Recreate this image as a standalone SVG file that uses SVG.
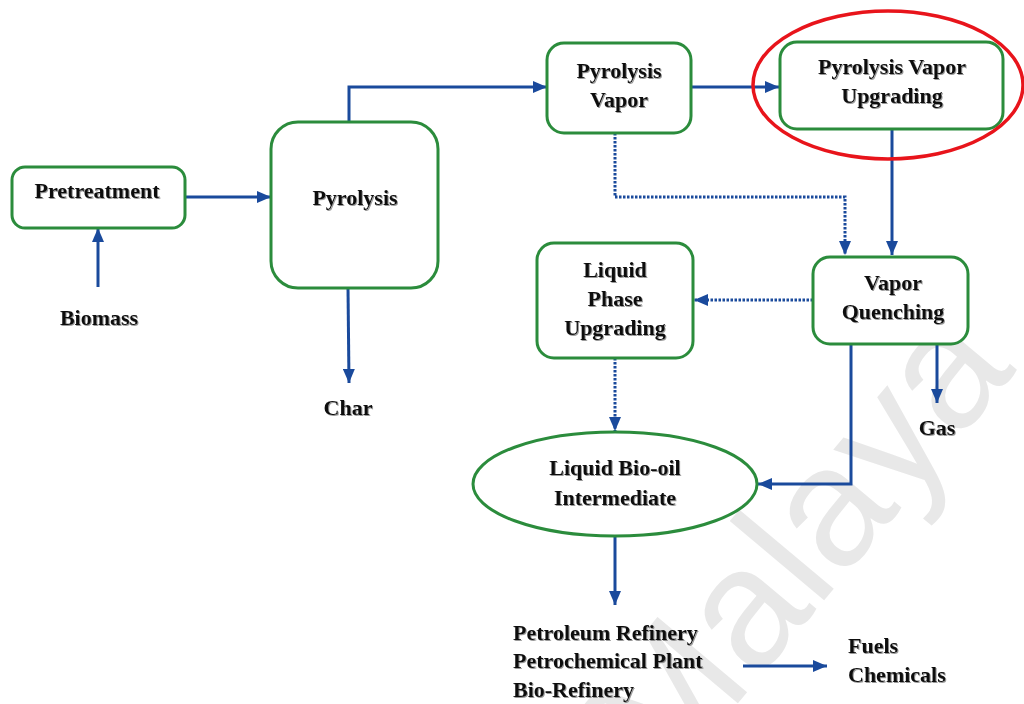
<svg xmlns="http://www.w3.org/2000/svg" width="1024" height="704" viewBox="0 0 1024 704">
  <defs>
    <marker id="ah" viewBox="0 0 14 12" refX="14" refY="6" markerWidth="14" markerHeight="12" markerUnits="userSpaceOnUse" orient="auto">
      <path d="M0,0 L14,6 L0,12 Z" fill="#1a4a9c"/>
    </marker>
    <filter id="sh" x="-5%" y="-20%" width="110%" height="140%">
      <feDropShadow dx="1" dy="1" stdDeviation="0.7" flood-color="#555" flood-opacity="0.6"/>
    </filter>
  </defs>
  <style>
    .box { fill: #ffffff; stroke: #2b8c3c; stroke-width: 3; }
    .ln { fill: none; stroke: #1a4a9c; stroke-width: 3; }
    .dot { fill: none; stroke: #1a4a9c; stroke-width: 3; stroke-dasharray: 2.5 1.5; }
    .t { font-family: "Liberation Serif", "Times New Roman", serif; font-weight: bold; font-size: 22px; fill: #111; text-anchor: middle; filter: url(#sh); }
    .tl { text-anchor: start; }
    .wm { font-family: "Liberation Sans", Arial, sans-serif; font-size: 170px; fill: #e8e8e8; }
  </style>
  <rect width="1024" height="704" fill="#ffffff"/>

  <text class="wm" transform="translate(665,790) rotate(-50)">Malaya</text>

  <g id="connectors">
    <line class="ln" x1="98" y1="287" x2="98" y2="228" marker-end="url(#ah)"/>
    <line class="ln" x1="185" y1="197" x2="271" y2="197" marker-end="url(#ah)"/>
    <polyline class="ln" points="349,122 349,87 547,87" marker-end="url(#ah)"/>
    <line class="ln" x1="348" y1="288" x2="349" y2="383" marker-end="url(#ah)"/>
    <line class="ln" x1="691" y1="87" x2="779" y2="87" marker-end="url(#ah)"/>
    <polyline class="dot" points="615,133 615,197 845,197 845,255" marker-end="url(#ah)"/>
    <line class="ln" x1="892" y1="129" x2="892" y2="255" marker-end="url(#ah)"/>
    <line class="dot" x1="813" y1="300" x2="694" y2="300" marker-end="url(#ah)"/>
    <line class="dot" x1="615" y1="358" x2="615" y2="431" marker-end="url(#ah)"/>
    <polyline class="ln" points="851,344 851,484 758,484" marker-end="url(#ah)"/>
    <line class="ln" x1="937" y1="344" x2="937" y2="403" marker-end="url(#ah)"/>
    <line class="ln" x1="615" y1="537" x2="615" y2="605" marker-end="url(#ah)"/>
    <line class="ln" x1="743" y1="666" x2="827" y2="666" marker-end="url(#ah)"/>
  </g>

  <g id="pretreatment">
    <rect class="box" x="12" y="167" width="173" height="61" rx="13"/>
    <text class="t" x="97" y="198">Pretreatment</text>
  </g>
  <g id="biomass">
    <text class="t" x="99" y="325">Biomass</text>
  </g>
  <g id="pyrolysis">
    <rect class="box" x="271" y="122" width="167" height="166" rx="27"/>
    <text class="t" x="355" y="205">Pyrolysis</text>
  </g>
  <g id="char">
    <text class="t" x="348" y="415">Char</text>
  </g>
  <g id="pyrolysis-vapor">
    <rect class="box" x="547" y="43" width="144" height="90" rx="17"/>
    <text class="t" x="619" y="78">Pyrolysis</text>
    <text class="t" x="619" y="107">Vapor</text>
  </g>
  <g id="pyrolysis-vapor-upgrading">
    <rect class="box" x="780" y="42" width="223" height="87" rx="17"/>
    <text class="t" x="892" y="74">Pyrolysis Vapor</text>
    <text class="t" x="892" y="103">Upgrading</text>
    <ellipse cx="888" cy="85" rx="135" ry="74" fill="none" stroke="#e8141b" stroke-width="3.5"/>
  </g>
  <g id="vapor-quenching">
    <rect class="box" x="813" y="257" width="155" height="87" rx="17"/>
    <text class="t" x="893" y="290">Vapor</text>
    <text class="t" x="893" y="319">Quenching</text>
  </g>
  <g id="gas">
    <text class="t" x="937" y="435">Gas</text>
  </g>
  <g id="liquid-phase-upgrading">
    <rect class="box" x="537" y="243" width="156" height="115" rx="17"/>
    <text class="t" x="615" y="277">Liquid</text>
    <text class="t" x="615" y="306">Phase</text>
    <text class="t" x="615" y="335">Upgrading</text>
  </g>
  <g id="liquid-bio-oil">
    <ellipse class="box" cx="615" cy="484" rx="142" ry="52"/>
    <text class="t" x="615" y="475">Liquid Bio-oil</text>
    <text class="t" x="615" y="505">Intermediate</text>
  </g>
  <g id="refineries">
    <text class="t tl" x="513" y="640">Petroleum Refinery</text>
    <text class="t tl" x="513" y="668">Petrochemical Plant</text>
    <text class="t tl" x="513" y="697">Bio-Refinery</text>
  </g>
  <g id="products">
    <text class="t tl" x="848" y="653">Fuels</text>
    <text class="t tl" x="848" y="682">Chemicals</text>
  </g>
</svg>
